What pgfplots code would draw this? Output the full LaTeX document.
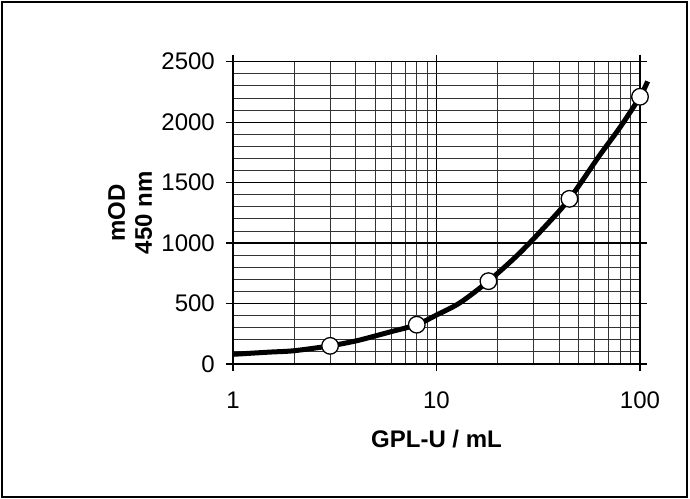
\documentclass[border=0pt]{standalone}
\usepackage{fontspec}
\setmainfont{Liberation Sans}
\usepackage{pgfplots}
\pgfplotsset{compat=1.18}

\begin{document}
\begin{tikzpicture}
% page = 690 x 499 bp, axis box lower left at (0,0)
\useasboundingbox (-233bp,-135bp) rectangle (457bp,364bp);
\draw[line width=2bp] (-231bp,-133bp) rectangle (454bp,362bp);
\begin{axis}[
    at={(0,0)}, anchor=south west,
    scale only axis, width=407bp, height=302.3bp,
    xmode=log, xmin=1, xmax=100, ymin=0, ymax=2500,
    xtick={1,10,100}, xticklabels={1,10,100},
    minor xtick={2,3,4,5,6,7,8,9,20,30,40,50,60,70,80,90},
    ytick={0,500,...,2500},
    minor ytick={100,200,300,400,600,700,800,900,1100,1200,1300,1400,1600,1700,1800,1900,2100,2200,2300,2400},
    /pgf/number format/1000 sep={},
    /pgf/number format/assume math mode=true,
    grid=both,
    major grid style={black, line width=1.3bp},
    minor grid style={black!80, line width=0.9bp},
    tick align=outside, major tick length=7bp, minor tick length=0pt,
    tick style={black, line width=1.3bp},
    axis line style={line width=1.6bp},
    tick label style={font=\fontsize{24bp}{28bp}\selectfont},
    yticklabel style={anchor=east, inner sep=0pt, xshift=-11bp},
    xticklabel style={anchor=base, inner sep=0pt, yshift=-37bp},
    xlabel={GPL-U / mL},
    ylabel={mOD\\450 nm},
    label style={font=\bfseries\fontsize{24bp}{27bp}\selectfont},
    xlabel style={at={(axis description cs:0.5,-0.248)}, anchor=center},
    ylabel style={at={(axis description cs:-0.253,0.5)}, anchor=center, align=center},
    clip=false,
]
\addplot[black, line width=5bp, smooth, no markers] coordinates {
    (1,80)(1.5,98)(2,110)(3,150)(4,190)(5,232)(6,268)(8,325)(10,405)(13,505)
    (18,685)(25,900)(33,1110)(45,1366)(63,1720)(80,1960)(100,2210)(109,2337)};
\addplot[only marks, mark=*, mark size=8.3bp,
    mark options={fill=white, draw=black, line width=1.3bp}] coordinates {
    (3,150)(8,325)(18,685)(45,1366)(100,2210)};
\end{axis}
\end{tikzpicture}
\end{document}
